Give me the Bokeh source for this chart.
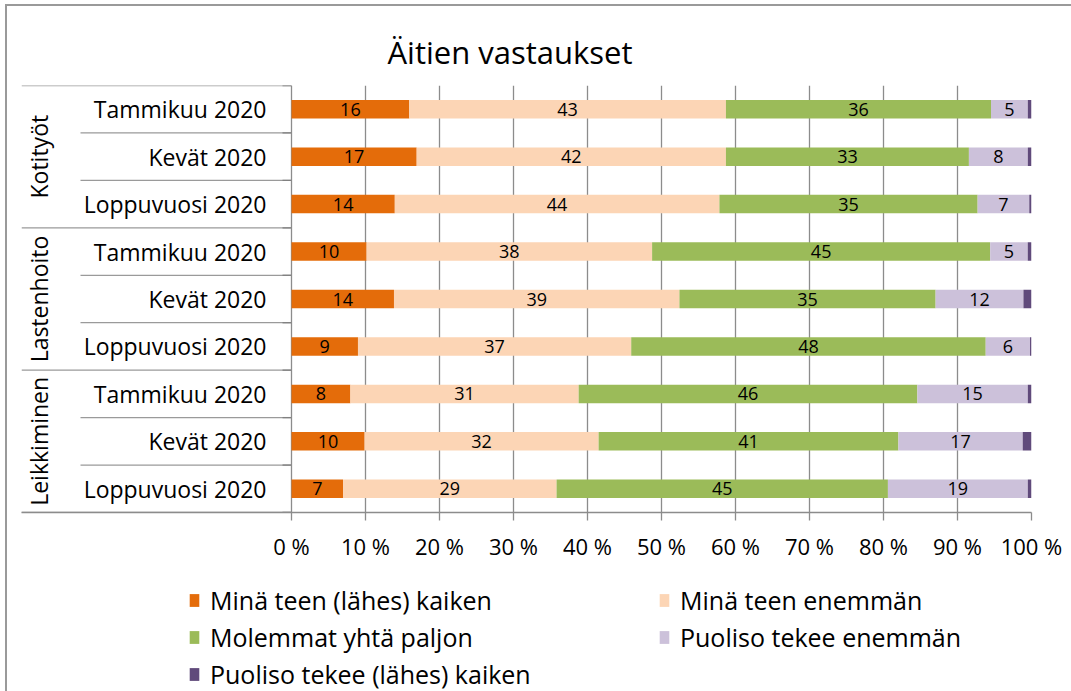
import math
from bokeh.plotting import figure
from bokeh.layouts import column
from bokeh.models import (Range1d, FixedTicker, PrintfTickFormatter, Legend, LegendItem)
from bokeh.core.properties import value
from bokeh.embed import file_html
from bokeh.resources import INLINE

# ---------------- data ----------------
groups = ["Kotityöt", "Lastenhoito", "Leikkiminen"]
periods = ["Tammikuu 2020", "Kevät 2020", "Loppuvuosi 2020"]
series_names = ["Minä teen (lähes) kaiken", "Minä teen enemmän", "Molemmat yhtä paljon",
                "Puoliso tekee enemmän", "Puoliso tekee (lähes) kaiken"]
colors = ["#E46C0A", "#FCD5B5", "#9BBB59", "#CCC1DA", "#604A7B"]

mina_kaiken = [16, 17, 14, 10, 14, 9, 8, 10, 7]
mina_enemman = [43, 42, 44, 38, 39, 37, 31, 32, 29]
molemmat = [36, 33, 35, 45, 35, 48, 46, 41, 45]
puoliso_enemman = [5, 8, 7, 5, 12, 6, 15, 17, 19]
puoliso_kaiken = [0.5, 0.5, 0.3, 0.5, 1.1, 0.2, 0.5, 1.2, 0.5]

series = [mina_kaiken, mina_enemman, molemmat, puoliso_enemman, puoliso_kaiken]
x_ticks = list(range(0, 101, 10))

# ---------------- layout constants ----------------
FONT = "Open Sans"
PX_PER_UNIT = 7.4          # 740 px for 100 %
LEFT_PX = 270              # label area width inside frame (px)
x_start = -LEFT_PX / PX_PER_UNIT

n_rows = len(groups) * len(periods)
row_labels = [p_ for g in groups for p_ in periods]
row_y = [i + 0.5 for i in range(n_rows)]

# 100 % stacking
totals = [sum(s[i] for s in series) for i in range(n_rows)]
norm = [[s[i] / totals[i] * 100 for i in range(n_rows)] for s in series]

p = figure(width=1064, height=566, output_backend="svg", toolbar_location=None,
           x_range=Range1d(x_start, 100), y_range=Range1d(n_rows, 0),
           y_axis_location=None,
           min_border_left=14, min_border_right=40, min_border_top=79, min_border_bottom=60,
           title="Äitien vastaukset")
p.background_fill_color = "white"
p.border_fill_color = "white"
p.outline_line_color = None

p.title.text_font = FONT
p.title.text_font_size = "31px"
p.title.text_font_style = "normal"
p.title.text_color = "#000000"
p.title.align = "left"
p.title.offset = 366
p.title.standoff = 25

p.ygrid.visible = False

# x axis
xa = p.xaxis[0]
xa.ticker = FixedTicker(ticks=x_ticks)
xa.formatter = PrintfTickFormatter(format="%d %%")
xa.axis_line_color = "#8c8c8c"
xa.axis_line_width = 1.3
xa.major_tick_line_color = "#8c8c8c"
xa.major_tick_line_width = 1.3
xa.major_tick_out = 8
xa.major_tick_in = 0
xa.minor_tick_line_color = None
xa.major_label_text_font = FONT
xa.major_label_text_font_size = "22px"
xa.major_label_text_color = "#000000"
xa.major_label_standoff = 10

p.xgrid.ticker = FixedTicker(ticks=x_ticks)
p.xgrid.grid_line_color = "#8c8c8c"
p.xgrid.grid_line_width = 1.3

# separators in the label area
grp_b = [i * len(periods) for i in range(len(groups) + 1)]
sub_b = [g * len(periods) + k for g in range(len(groups)) for k in range(1, len(periods))]
p.segment(x0=[x_start] * len(grp_b), x1=[0] * len(grp_b), y0=grp_b, y1=grp_b,
          line_color="#9a9a9a", line_width=1.3)
sub_x0 = -(291 - 80) / PX_PER_UNIT
p.segment(x0=[sub_x0] * len(sub_b), x1=[0] * len(sub_b), y0=sub_b, y1=sub_b,
          line_color="#9a9a9a", line_width=1.3)
all_b = list(range(n_rows + 1))
p.segment(x0=[-9 / PX_PER_UNIT] * len(all_b), x1=[0] * len(all_b), y0=all_b, y1=all_b,
          line_color="#808080", line_width=1.3)

# stacked bars
lefts = [0.0] * n_rows
for name, vals, col in zip(series_names, norm, colors):
    rights = [l + v for l, v in zip(lefts, vals)]
    p.hbar(y=row_y, left=lefts, right=rights, height=0.39, fill_color=col, line_color=None)
    lefts = rights

# value labels (first four series)
lab_x, lab_y, lab_t = [], [], []
lefts = [0.0] * n_rows
for si, (raw, vals) in enumerate(zip(series, norm)):
    for i in range(n_rows):
        if si < 4:
            lab_x.append(lefts[i] + vals[i] / 2)
            lab_y.append(row_y[i])
            lab_t.append(f"{raw[i]:.0f}")
    lefts = [l + v for l, v in zip(lefts, vals)]
p.text(x=lab_x, y=lab_y, text=lab_t, text_font=value(FONT), text_font_size="18px",
       text_align="center", text_baseline="middle", text_color="#000000")

# row labels
p.text(x=[-25 / PX_PER_UNIT] * n_rows, y=row_y, text=row_labels, text_font=value(FONT),
       text_font_size="23px", text_align="right", text_baseline="middle", text_color="#000000")

# group labels (vertical)
grp_y = [g * len(periods) + len(periods) / 2 for g in range(len(groups))]
p.text(x=[x_start + 17 / PX_PER_UNIT] * len(groups), y=grp_y, text=groups, angle=math.pi / 2,
       text_font=value(FONT), text_font_size="23px", text_align="center",
       text_baseline="middle", text_color="#000000")

# ---------------- legend strip ----------------
p2 = figure(width=1064, height=119, output_backend="svg", toolbar_location=None,
            x_range=Range1d(0, 1), y_range=Range1d(0, 1),
            x_axis_location=None, y_axis_location=None,
            min_border_left=0, min_border_right=0, min_border_top=0, min_border_bottom=0)
p2.grid.visible = False
p2.outline_line_color = None
p2.background_fill_color = "white"
p2.border_fill_color = "white"

# zero-size bar per series so that the legend has a swatch to draw
swatches = [p2.hbar(y=[0.5], left=[0.5], right=[0.5], height=0, fill_color=c, line_color=None)
            for c in colors]
legend = Legend(items=[LegendItem(label=n, renderers=[r]) for n, r in zip(series_names, swatches)],
                location=(167, 0), orientation="horizontal", ncols=2, nrows=3,
                glyph_width=12, glyph_height=16, label_standoff=10, label_width=445,
                spacing=3, padding=0, margin=0, border_line_color=None,
                background_fill_alpha=0, label_text_font=FONT, label_text_font_size="25px",
                label_text_color="#000000")
p2.add_layout(legend, "center")

layout = column(p, p2, spacing=0)
layout.styles = {"border-left": "2px solid #9a9a9a", "border-top": "2px solid #9a9a9a",
                 "margin-left": "5px", "margin-top": "4px"}

open("out.html", "w").write(file_html(layout, INLINE))
